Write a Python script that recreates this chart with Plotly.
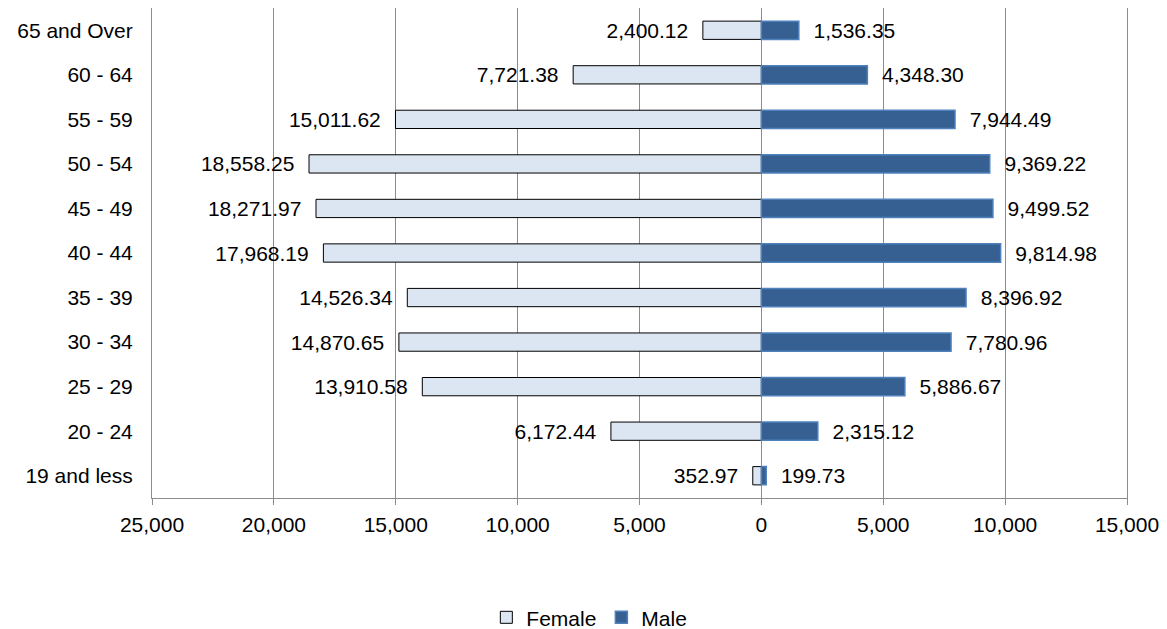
import plotly.graph_objects as go

categories = ["19 and less", "20 - 24", "25 - 29", "30 - 34", "35 - 39", "40 - 44",
              "45 - 49", "50 - 54", "55 - 59", "60 - 64", "65 and Over"]
female = [352.97, 6172.44, 13910.58, 14870.65, 14526.34, 17968.19,
          18271.97, 18558.25, 15011.62, 7721.38, 2400.12]
male = [199.73, 2315.12, 5886.67, 7780.96, 8396.92, 9814.98,
        9499.52, 9369.22, 7944.49, 4348.30, 1536.35]
tick_vals = [-25000, -20000, -15000, -10000, -5000, 0, 5000, 10000, 15000]
tick_text = [f"{abs(v):,}" for v in tick_vals]

FONT = "Liberation Sans, Arial, sans-serif"
FS = 21
GRID = "#8C8C8C"

fig = go.Figure()
fig.add_trace(go.Bar(
    y=categories, x=[-v for v in female], orientation="h", name="Female",
    marker=dict(color="#DCE6F2", line=dict(color="#000000", width=1)),
    text=[f"{v:,.2f}  " for v in female], textposition="outside",
    constraintext="none",
    textfont=dict(family=FONT, size=FS, color="#000000"), cliponaxis=False,
))
fig.add_trace(go.Bar(
    y=categories, x=male, orientation="h", name="Male",
    marker=dict(color="#376092", line=dict(color="#4F81BD", width=1.5)),
    text=[f"  {v:,.2f}" for v in male], textposition="outside",
    constraintext="none",
    textfont=dict(family=FONT, size=FS, color="#000000"), cliponaxis=False,
))

fig.update_layout(
    width=1167, height=629,
    margin=dict(l=152, r=40, t=8, b=131),
    barmode="overlay", bargap=0.59,
    plot_bgcolor="white", paper_bgcolor="white",
    font=dict(family=FONT, size=FS, color="#000000"),
    showlegend=True,
    legend=dict(orientation="h", xref="container", yref="container",
                x=0.505, xanchor="center", y=0.018, yanchor="middle",
                font=dict(family=FONT, size=FS), traceorder="normal",
                itemwidth=30),
)
fig.update_xaxes(
    range=[-25000, 15000], tickvals=tick_vals, ticktext=tick_text,
    showgrid=True, gridcolor=GRID, gridwidth=1,
    zeroline=True, zerolinecolor=GRID, zerolinewidth=1,
    showline=True, linecolor=GRID, linewidth=1,
    ticks="outside", ticklen=6, tickcolor=GRID,
    ticklabelstandoff=2,
)
fig.update_yaxes(
    categoryorder="array", categoryarray=categories,
    showgrid=False, zeroline=False,
    showline=True, linecolor=GRID, linewidth=1, mirror=True,
    ticks="", ticklabelstandoff=14,
)

fig.write_html("out.html")
